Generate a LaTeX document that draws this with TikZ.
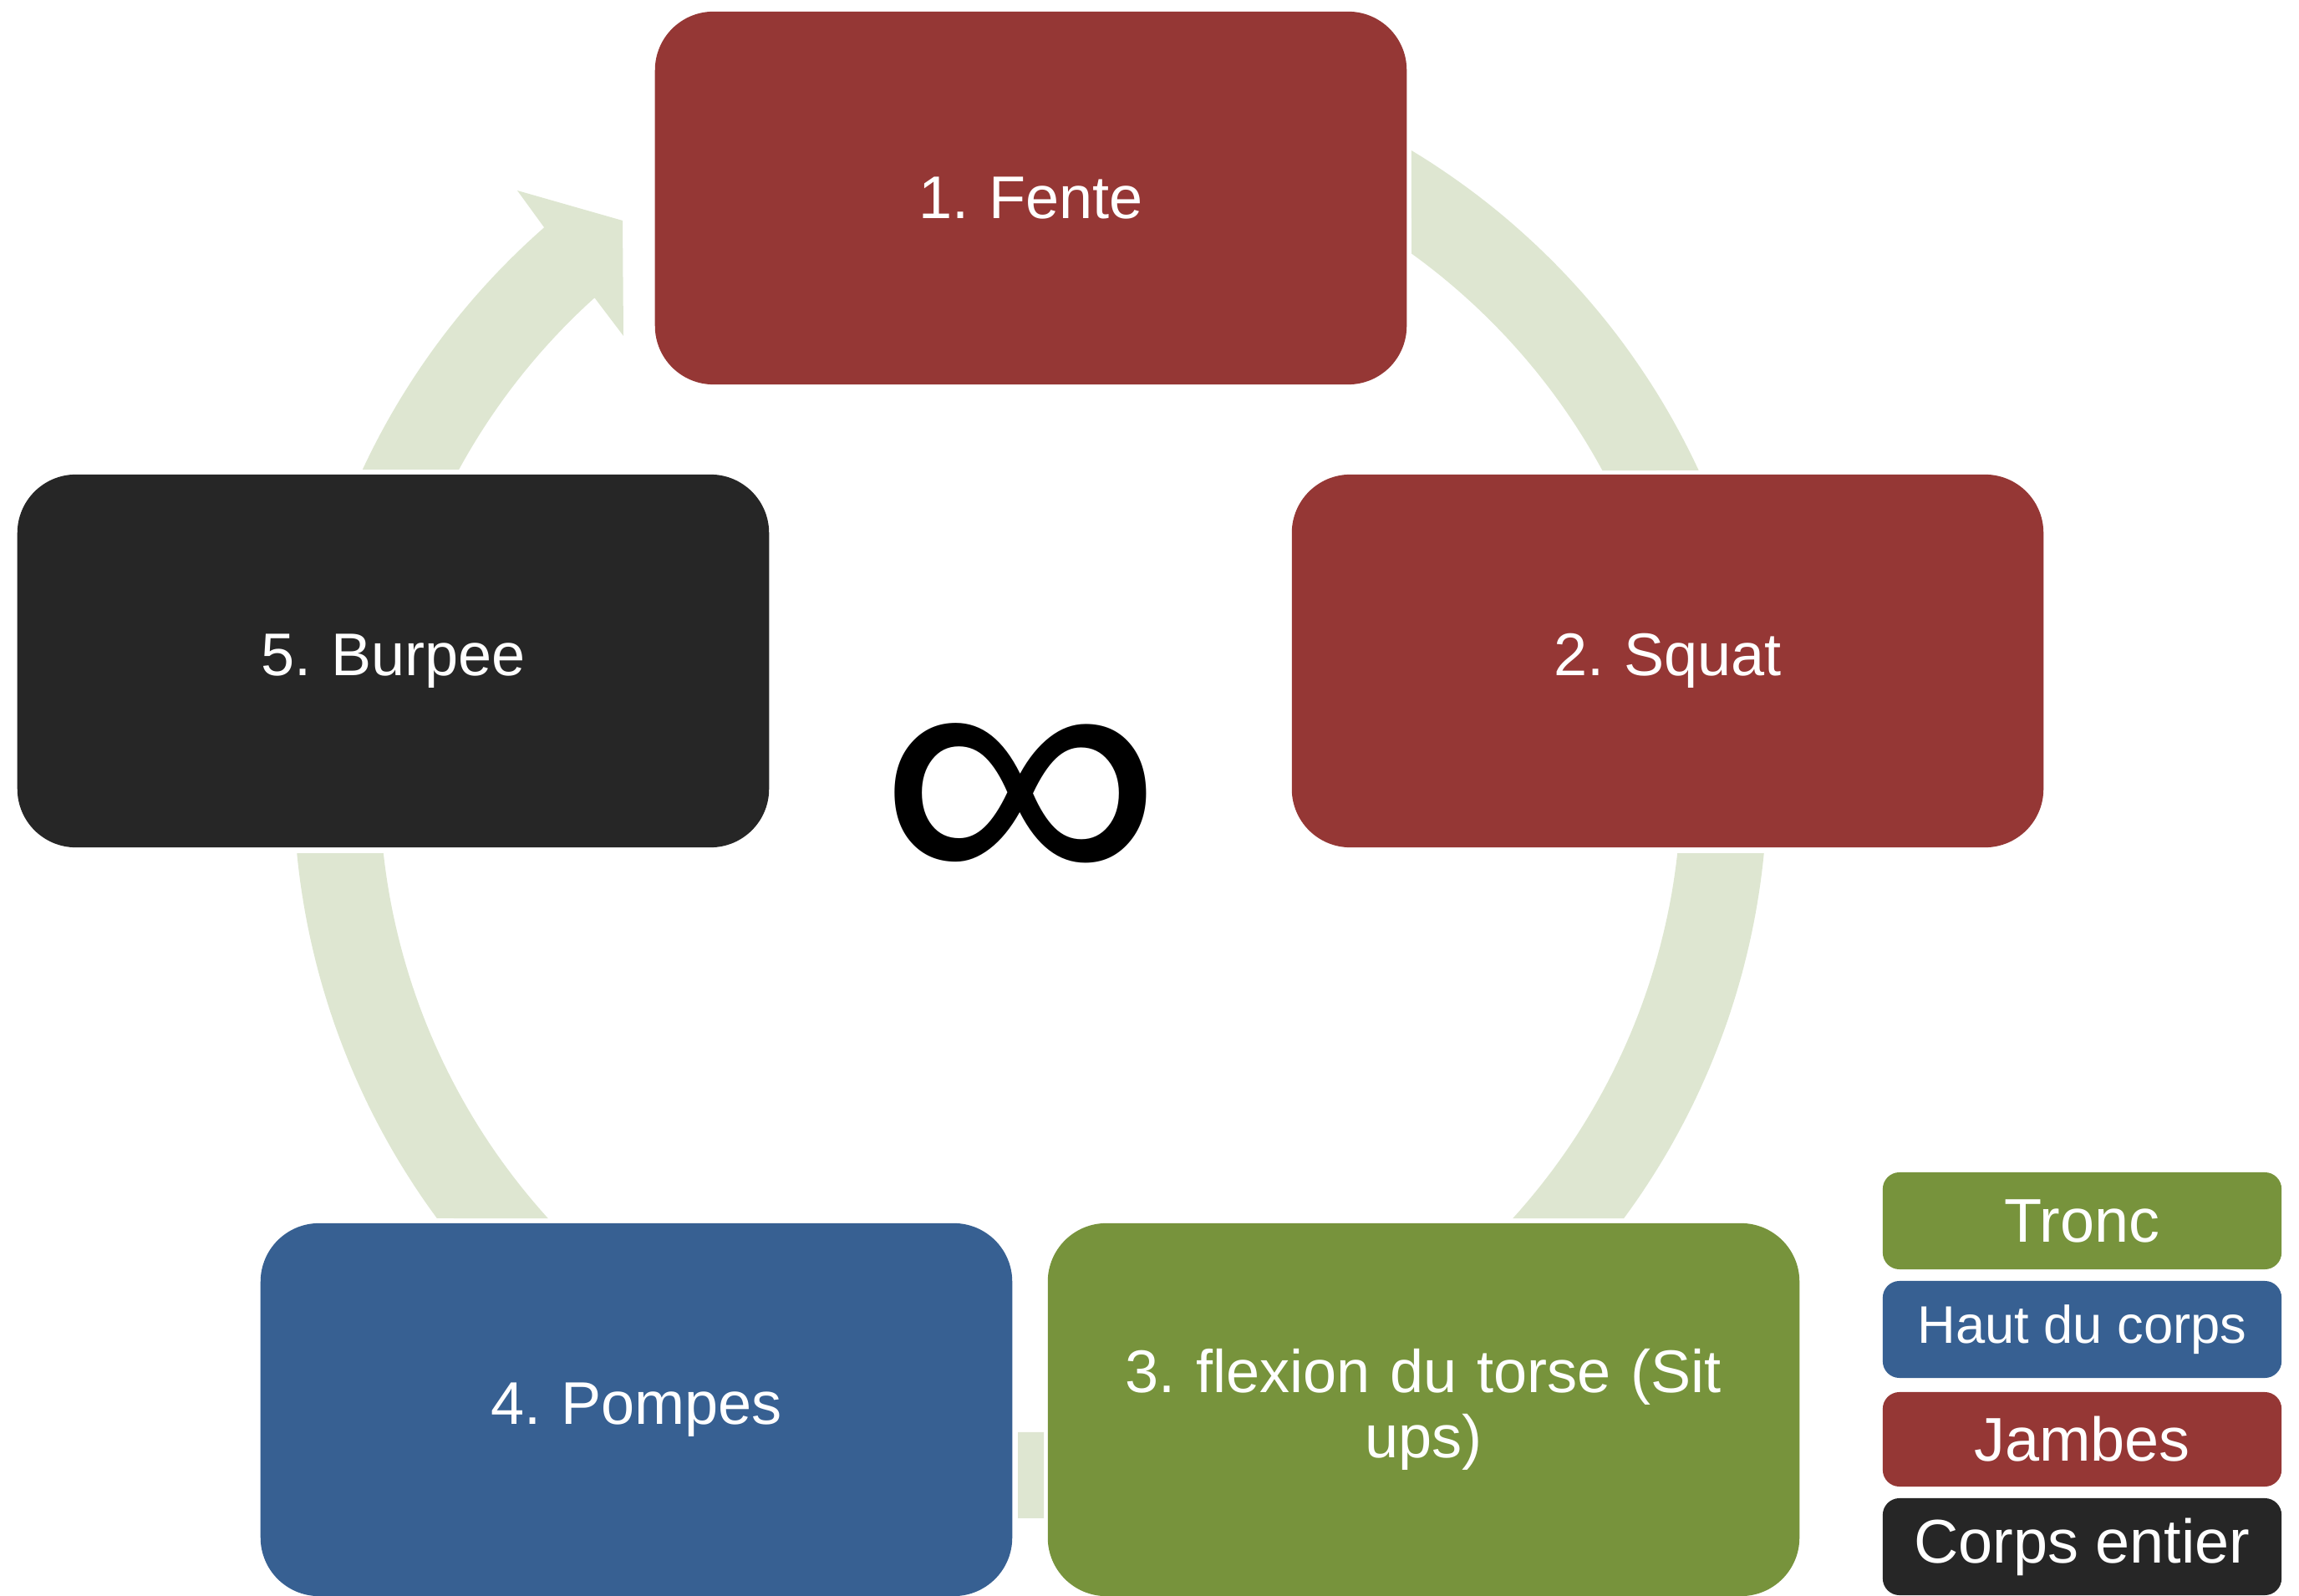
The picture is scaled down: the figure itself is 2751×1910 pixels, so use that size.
\documentclass[tikz,border=0pt]{standalone}
\usepackage{fontspec}
\usepackage{graphicx}
\setmainfont{Liberation Sans}
\frenchspacing
\definecolor{cRed}{RGB}{149,55,53}
\definecolor{cBlue}{RGB}{55,96,146}
\definecolor{cGreen}{RGB}{119,147,60}
\definecolor{cBlack}{RGB}{38,38,38}
\definecolor{cBand}{RGB}{222,230,209}
\tikzset{
  stepbox/.style={fill=#1, draw=none, rounded corners=0.7cm, minimum width=8.99cm, minimum height=4.46cm,
    inner sep=0pt, text=white, align=center, text width=8.2cm,
    font=\fontsize{20.5pt}{22.2pt}\selectfont},
  legbox/.style={fill=#1, draw=none, rounded corners=0.2cm, minimum width=4.77cm, minimum height=1.16cm,
    inner sep=0pt, text=white, align=center},
  band/.style={fill=cBand, draw=none},
}
\newcommand{\Ro}{882}
\newcommand{\Ri}{779}
\begin{document}
\begin{tikzpicture}[x=0.01cm,y=-0.01cm]
\useasboundingbox (0,0) rectangle (2751,1910);
\coordinate (ctr) at (1233,935);
% ring segments
\fill[band] plot[domain=-58.87:-24.95,samples=40] ({1233+\Ro*cos(\x)},{935+\Ro*sin(\x)})
  -- plot[domain=-28.52:-54.17,samples=40] ({1233+\Ri*cos(\x)},{935+\Ri*sin(\x)}) -- cycle;
\fill[band] plot[domain=5.60:36.37,samples=40] ({1233+\Ro*cos(\x)},{935+\Ro*sin(\x)})
  -- plot[domain=42.18:6.34,samples=40] ({1233+\Ri*cos(\x)},{935+\Ri*sin(\x)}) -- cycle;
\fill[band] plot[domain=88.96:90.97,samples=10] ({1233+\Ro*cos(\x)},{935+\Ro*sin(\x)})
  -- plot[domain=91.10:88.82,samples=10] ({1233+\Ri*cos(\x)},{935+\Ri*sin(\x)}) -- cycle;
\fill[band] plot[domain=143.63:174.40,samples=40] ({1233+\Ro*cos(\x)},{935+\Ro*sin(\x)})
  -- plot[domain=173.66:137.82,samples=40] ({1233+\Ri*cos(\x)},{935+\Ri*sin(\x)}) -- cycle;
\fill[band] plot[domain=205.02:228.72,samples=40] ({1233+\Ro*cos(\x)},{935+\Ro*sin(\x)})
  -- (619,228) -- (745,264) -- (746,402)
  -- plot[domain=227.97:208.61,samples=40] ({1233+\Ri*cos(\x)},{935+\Ri*sin(\x)}) -- cycle;
% steps
\node[stepbox=cRed] (s1) at (1233.5,237) {1. Fente};
\node[stepbox=cRed] (s2) at (1995.5,791) {2. Squat};
\node[stepbox=cGreen] (s3) at (1703.5,1687) {3. flexion du torse (Sit\\ups)};
\node[stepbox=cBlue] (s4) at (761.5,1687) {4. Pompes};
\node[stepbox=cBlack] (s5) at (470.5,791) {5. Burpee};
% infinity
\node[inner sep=0pt, font=\fontsize{142pt}{142pt}\selectfont] (inf) at (1221,971) {\scalebox{0.96}[0.88]{∞}};
% legend
\node[legbox=cGreen, font=\fontsize{21pt}{21pt}\selectfont] (l1) at (2491.5,1461) {Tronc};
\node[legbox=cBlue, font=\fontsize{18pt}{18pt}\selectfont] (l2) at (2491.5,1591) {Haut du corps};
\node[legbox=cRed, minimum height=1.13cm, font=\fontsize{21pt}{21pt}\selectfont] (l3) at (2491.5,1722.5) {Jambes};
\node[legbox=cBlack, font=\fontsize{21pt}{21pt}\selectfont] (l4) at (2491.5,1851) {Corps entier};
\end{tikzpicture}
\end{document}
